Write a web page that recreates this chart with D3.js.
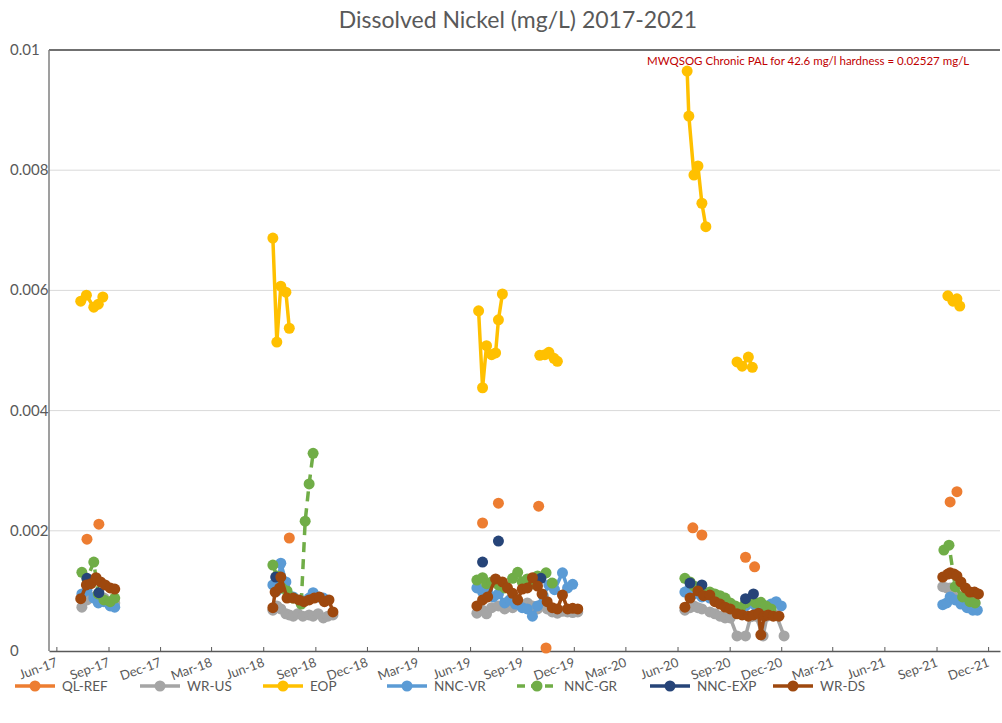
<!DOCTYPE html>
<html>
<head>
<meta charset="utf-8">
<script src="https://cdn.jsdelivr.net/npm/d3@7/dist/d3.min.js"></script>
<style>
  html, body { margin: 0; padding: 0; background: #ffffff; }
  svg { display: block; }
  text { font-family: Lato, "Open Sans", sans-serif; fill: #595959; }
</style>
</head>
<body>
<svg id="chart" width="1002" height="723"></svg>
<script>
// ---- data -------------------------------------------------------------
const title = "Dissolved Nickel (mg/L) 2017-2021";
const note = "MWQSOG Chronic PAL for 42.6 mg/l hardness = 0.02527 mg/L";
const yTicks = [0, 0.002, 0.004, 0.006, 0.008, 0.01];
const yTickLabels = ["0", "0.002", "0.004", "0.006", "0.008", "0.01"];
const xTickLabels = ["Jun-17","Sep-17","Dec-17","Mar-18","Jun-18","Sep-18","Dec-18",
  "Mar-19","Jun-19","Sep-19","Dec-19","Mar-20","Jun-20","Sep-20","Dec-20",
  "Mar-21","Jun-21","Sep-21","Dec-21"];
const seriesNames = ["QL-REF","WR-US","EOP","NNC-VR","NNC-GR","NNC-EXP","WR-DS"];

// null entries break the line between sampling runs
const qlRef = [
  ["2017-07-25",0.00186], null, ["2017-08-15",0.00211], null,
  ["2018-07-17",0.00188], null,
  ["2019-06-23",0.00213], null, ["2019-07-21",0.00246], null,
  ["2019-09-30",0.00241], null, ["2019-10-13",0.00005], null,
  ["2020-06-28",0.00205], null, ["2020-07-14",0.00193], null,
  ["2020-09-29",0.00156], null, ["2020-10-15",0.00140], null,
  ["2021-09-25",0.00248], null, ["2021-10-07",0.00265]
];
const wrUs = [
  ["2017-07-16",0.00073],["2017-07-25",0.00085],["2017-08-06",0.00090],["2017-08-14",0.00085],
  ["2017-08-24",0.00088],["2017-09-04",0.00082],["2017-09-12",0.00080], null,
  ["2018-06-18",0.00068],["2018-06-25",0.00075],["2018-07-02",0.00070],["2018-07-11",0.00062],
  ["2018-07-17",0.00060],["2018-07-24",0.00058],["2018-08-01",0.00062],["2018-08-10",0.00058],
  ["2018-08-21",0.00060],["2018-08-28",0.00058],["2018-09-06",0.00062],["2018-09-15",0.00055],
  ["2018-09-23",0.00058],["2018-10-02",0.00060], null,
  ["2019-06-13",0.00063],["2019-06-23",0.00068],["2019-06-30",0.00062],["2019-07-09",0.00072],
  ["2019-07-21",0.00075],["2019-08-01",0.00070],["2019-08-15",0.00072],["2019-08-24",0.00078],
  ["2019-09-01",0.00075],["2019-09-10",0.00080],["2019-09-19",0.00075],["2019-09-28",0.00070],
  ["2019-10-06",0.00078],["2019-10-15",0.00070],["2019-10-24",0.00065],["2019-11-02",0.00063],
  ["2019-11-11",0.00066],["2019-11-20",0.00065],["2019-11-29",0.00064],["2019-12-08",0.00065], null,
  ["2020-06-14",0.00068],["2020-06-23",0.00072],["2020-06-30",0.00075],["2020-07-07",0.00072],
  ["2020-07-14",0.00070],["2020-07-28",0.00065],["2020-08-06",0.00062],["2020-08-15",0.00058],
  ["2020-08-24",0.00055],["2020-09-02",0.00055],["2020-09-14",0.00025],["2020-09-29",0.00025],
  ["2020-10-08",0.00057],["2020-10-17",0.00058],["2020-10-30",0.00025],["2020-11-06",0.00058],
  ["2020-11-15",0.00060],["2020-11-22",0.00060],["2020-12-06",0.00025], null,
  ["2021-09-12",0.00107],["2021-09-19",0.00105],["2021-09-25",0.00105],["2021-10-04",0.00093],
  ["2021-10-12",0.00090],["2021-10-20",0.00088],["2021-10-30",0.00085],["2021-11-08",0.00080]
];
const eop = [
  ["2017-07-14",0.00582],["2017-07-24",0.00592],["2017-08-06",0.00572],["2017-08-14",0.00577],
  ["2017-08-22",0.00589], null,
  ["2018-06-18",0.00687],["2018-06-25",0.00514],["2018-07-02",0.00607],["2018-07-11",0.00597],
  ["2018-07-17",0.00537], null,
  ["2019-06-16",0.00566],["2019-06-23",0.00438],["2019-06-30",0.00508],["2019-07-09",0.00493],
  ["2019-07-16",0.00496],["2019-07-21",0.00551],["2019-07-28",0.00594], null,
  ["2019-10-02",0.00492],["2019-10-11",0.00493],["2019-10-18",0.00497],["2019-10-27",0.00487],
  ["2019-11-02",0.00482], null,
  ["2020-06-18",0.00965],["2020-06-21",0.00890],["2020-06-30",0.00792],["2020-07-07",0.00807],
  ["2020-07-14",0.00745],["2020-07-21",0.00706], null,
  ["2020-09-14",0.00481],["2020-09-23",0.00474],["2020-10-04",0.00489],["2020-10-11",0.00472], null,
  ["2021-09-21",0.00591],["2021-09-30",0.00582],["2021-10-07",0.00586],["2021-10-12",0.00574]
];
const nncVr = [
  ["2017-07-16",0.00095],["2017-07-25",0.00101],["2017-08-06",0.00088],["2017-08-14",0.00080],
  ["2017-08-24",0.00082],["2017-09-04",0.00075],["2017-09-12",0.00073], null,
  ["2018-06-18",0.00110],["2018-06-25",0.00100],["2018-07-02",0.00146],["2018-07-11",0.00115],
  ["2018-07-24",0.00090],["2018-08-06",0.00085],["2018-08-21",0.00088],["2018-08-28",0.00097],
  ["2018-09-06",0.00090],["2018-09-15",0.00088], null,
  ["2019-06-13",0.00105],["2019-06-23",0.00098],["2019-07-02",0.00102],["2019-07-12",0.00090],
  ["2019-07-21",0.00095],["2019-08-01",0.00080],["2019-08-10",0.00085],["2019-08-20",0.00078],
  ["2019-09-01",0.00072],["2019-09-10",0.00070],["2019-09-19",0.00058],["2019-09-28",0.00075],
  ["2019-10-08",0.00092],["2019-10-18",0.00110],["2019-10-28",0.00102],["2019-11-11",0.00130],
  ["2019-11-20",0.00105],["2019-11-29",0.00111], null,
  ["2020-06-14",0.00098],["2020-06-23",0.00105],["2020-06-30",0.00095],["2020-07-14",0.00090],
  ["2020-07-28",0.00088],["2020-08-06",0.00085],["2020-08-15",0.00082],["2020-08-24",0.00078],
  ["2020-09-02",0.00072],["2020-09-11",0.00070],["2020-09-20",0.00068],["2020-09-29",0.00075],
  ["2020-10-08",0.00080],["2020-10-17",0.00075],["2020-10-26",0.00078],["2020-11-04",0.00072],
  ["2020-11-13",0.00078],["2020-11-22",0.00082],["2020-12-01",0.00075], null,
  ["2021-09-12",0.00077],["2021-09-19",0.00080],["2021-09-25",0.00090],["2021-10-04",0.00085],
  ["2021-10-14",0.00078],["2021-10-25",0.00072],["2021-11-04",0.00068],["2021-11-12",0.00068]
];
const nncGr = [
  ["2017-07-16",0.00131],["2017-07-25",0.00120],["2017-08-06",0.00148],["2017-08-14",0.00095],
  ["2017-08-24",0.00085],["2017-09-04",0.00082],["2017-09-12",0.00088], null,
  ["2018-06-18",0.00143],["2018-06-25",0.00125],["2018-07-04",0.00105],["2018-07-13",0.00100],
  ["2018-07-24",0.00088],["2018-08-07",0.00078],["2018-08-14",0.00216],["2018-08-21",0.00278],
  ["2018-08-28",0.00329], null,
  ["2019-06-13",0.00118],["2019-06-23",0.00122],["2019-06-30",0.00112],["2019-07-09",0.00115],
  ["2019-07-21",0.00110],["2019-08-01",0.00105],["2019-08-15",0.00121],["2019-08-24",0.00131],
  ["2019-09-01",0.00115],["2019-09-10",0.00120],["2019-09-19",0.00112],["2019-09-28",0.00125],
  ["2019-10-13",0.00130],["2019-10-24",0.00113], null,
  ["2020-06-14",0.00121],["2020-06-23",0.00115],["2020-06-30",0.00108],["2020-07-07",0.00105],
  ["2020-07-14",0.00100],["2020-07-28",0.00098],["2020-08-06",0.00095],["2020-08-15",0.00092],
  ["2020-08-24",0.00088],["2020-09-02",0.00080],["2020-09-11",0.00075],["2020-09-20",0.00072],
  ["2020-09-29",0.00080],["2020-10-08",0.00085],["2020-10-17",0.00080],["2020-10-26",0.00081],
  ["2020-11-04",0.00075],["2020-11-13",0.00070], null,
  ["2021-09-14",0.00168],["2021-09-23",0.00176],["2021-10-04",0.00107],["2021-10-17",0.00090],
  ["2021-10-30",0.00082],["2021-11-08",0.00080]
];
const nncExp = [
  ["2017-07-25",0.00121], null, ["2017-08-15",0.00097], null,
  ["2018-06-23",0.00123], null,
  ["2019-06-23",0.00148], null, ["2019-07-21",0.00183], null, ["2019-10-04",0.00121], null,
  ["2020-06-23",0.00113], null, ["2020-07-14",0.00110], null,
  ["2020-09-29",0.00087], null, ["2020-10-13",0.00095]
];
const wrDs = [
  ["2017-07-14",0.00087],["2017-07-24",0.00110],["2017-08-01",0.00112],["2017-08-10",0.00122],
  ["2017-08-18",0.00115],["2017-08-26",0.00110],["2017-09-04",0.00105],["2017-09-12",0.00103], null,
  ["2018-06-18",0.00072],["2018-06-22",0.00098],["2018-06-30",0.00105],["2018-07-02",0.00123],
  ["2018-07-13",0.00088],["2018-07-24",0.00088],["2018-08-03",0.00085],["2018-08-12",0.00082],
  ["2018-08-21",0.00085],["2018-08-30",0.00088],["2018-09-08",0.00090],["2018-09-17",0.00082],
  ["2018-09-25",0.00085],["2018-10-02",0.00065], null,
  ["2019-06-13",0.00075],["2019-06-23",0.00085],["2019-07-02",0.00090],["2019-07-16",0.00120],
  ["2019-07-28",0.00115],["2019-08-06",0.00105],["2019-08-15",0.00096],["2019-08-24",0.00085],
  ["2019-09-01",0.00103],["2019-09-10",0.00105],["2019-09-19",0.00122],["2019-09-28",0.00108],
  ["2019-10-06",0.00095],["2019-10-15",0.00082],["2019-10-24",0.00072],["2019-11-02",0.00070],
  ["2019-11-11",0.00093],["2019-11-20",0.00070],["2019-11-29",0.00071],["2019-12-08",0.00070], null,
  ["2020-06-14",0.00073],["2020-06-23",0.00088],["2020-07-07",0.00100],["2020-07-17",0.00092],
  ["2020-07-28",0.00093],["2020-08-06",0.00082],["2020-08-15",0.00078],["2020-08-24",0.00073],
  ["2020-09-02",0.00070],["2020-09-14",0.00062],["2020-09-23",0.00060],["2020-10-04",0.00058],
  ["2020-10-13",0.00060],["2020-10-22",0.00063],["2020-10-26",0.00027],["2020-11-01",0.00058],
  ["2020-11-08",0.00060],["2020-11-17",0.00058],["2020-11-27",0.00058], null,
  ["2021-09-12",0.00123],["2021-09-21",0.00128],["2021-09-25",0.00130],["2021-10-02",0.00128],
  ["2021-10-07",0.00125],["2021-10-14",0.00115],["2021-10-22",0.00105],["2021-10-30",0.00098],
  ["2021-11-07",0.00098],["2021-11-14",0.00095]
];

// ---- styling per series ----------------------------------------------
const seriesValues = [qlRef, wrUs, eop, nncVr, nncGr, nncExp, wrDs];
const seriesColors = ["#ED7D31","#A5A5A5","#FFC000","#5B9BD5","#70AD47","#264478","#9E480E"];
const seriesDash = [null, null, null, null, "10,7", null, null];

// ---- layout -----------------------------------------------------------
const W = 1002, H = 723;
const plot = { left: 49, right: 1000, top: 50, bottom: 651 };
const parseDate = d3.timeParse("%Y-%m-%d");
const parseTick = d3.timeParse("%b-%y");

const x = d3.scaleTime()
  .domain([parseDate("2017-05-19"), parseDate("2021-12-22")])
  .range([plot.left, plot.right]);
const y = d3.scaleLinear().domain([0, 0.01]).range([plot.bottom, plot.top]);

const svg = d3.select("#chart");

// gridlines
svg.append("g").selectAll("line")
  .data(yTicks.slice(1, -1))
  .join("line")
  .attr("x1", plot.left).attr("x2", plot.right)
  .attr("y1", d => y(d)).attr("y2", d => y(d))
  .attr("stroke", "#D9D9D9").attr("stroke-width", 1);

// top border of plot area
svg.append("line")
  .attr("x1", plot.left).attr("x2", plot.right)
  .attr("y1", y(0.01)).attr("y2", y(0.01))
  .attr("stroke", "#404040").attr("stroke-width", 1.3);

// y axis line and labels
svg.append("line")
  .attr("x1", plot.left).attr("x2", plot.left)
  .attr("y1", plot.top).attr("y2", plot.bottom)
  .attr("stroke", "#7F7F7F").attr("stroke-width", 1.5);

svg.append("g").selectAll("text")
  .data(yTicks)
  .join("text")
  .attr("x", 10)
  .attr("y", d => y(d) + 5)
  .attr("font-size", 15)
  .text((d, i) => yTickLabels[i]);

// x axis with inward ticks
const xTickDates = xTickLabels.map(parseTick);
const xAxis = d3.axisBottom(x)
  .tickValues(xTickDates)
  .tickSizeInner(-4).tickSizeOuter(0)
  .tickFormat("");
const gx = svg.append("g")
  .attr("transform", `translate(0,${plot.bottom})`)
  .call(xAxis);
gx.select(".domain").attr("stroke", "#595959").attr("stroke-width", 1.3);
gx.selectAll(".tick line").attr("stroke", "#595959");

svg.append("g").selectAll("text")
  .data(xTickDates)
  .join("text")
  .attr("transform", d => `translate(${x(d) + 2},${plot.bottom + 15}) rotate(-20)`)
  .attr("text-anchor", "end")
  .attr("font-size", 13)
  .text((d, i) => xTickLabels[i]);

// series lines and markers
const line = d3.line()
  .defined(d => d !== null)
  .x(d => x(parseDate(d[0])))
  .y(d => y(d[1]));

const gSeries = svg.append("g");
seriesValues.forEach((vals, i) => {
  const g = gSeries.append("g");
  g.append("path")
    .attr("d", line(vals))
    .attr("fill", "none")
    .attr("stroke", seriesColors[i])
    .attr("stroke-width", 3.5)
    .attr("stroke-linejoin", "round")
    .attr("stroke-linecap", seriesDash[i] ? "butt" : "round")
    .attr("stroke-dasharray", seriesDash[i]);
  g.selectAll("circle")
    .data(vals.filter(d => d !== null))
    .join("circle")
    .attr("cx", d => x(parseDate(d[0])))
    .attr("cy", d => y(d[1]))
    .attr("r", 5.5)
    .attr("fill", seriesColors[i]);
});

// title and guideline note
svg.append("text")
  .attr("x", W / 2 + 17).attr("y", 28)
  .attr("text-anchor", "middle")
  .attr("font-size", 23)
  .text(title);

svg.append("text")
  .attr("x", 647).attr("y", 65)
  .attr("font-size", 11.5)
  .style("fill", "#C00000")
  .text(note);

// legend
const legendX = [15, 140, 263, 387, 517, 650, 773];
const gl = svg.append("g").attr("transform", "translate(0,686)");
seriesNames.forEach((name, i) => {
  const g = gl.append("g").attr("transform", `translate(${legendX[i]},0)`);
  g.append("line")
    .attr("x1", 0).attr("x2", 40).attr("y1", 0).attr("y2", 0)
    .attr("stroke", seriesColors[i]).attr("stroke-width", 3.5)
    .attr("stroke-dasharray", seriesDash[i] ? "8,6" : null);
  g.append("circle").attr("cx", 20).attr("cy", 0).attr("r", 5.5).attr("fill", seriesColors[i]);
  g.append("text").attr("x", 47).attr("y", 5).attr("font-size", 13.5).text(name);
});
</script>
</body>
</html>
